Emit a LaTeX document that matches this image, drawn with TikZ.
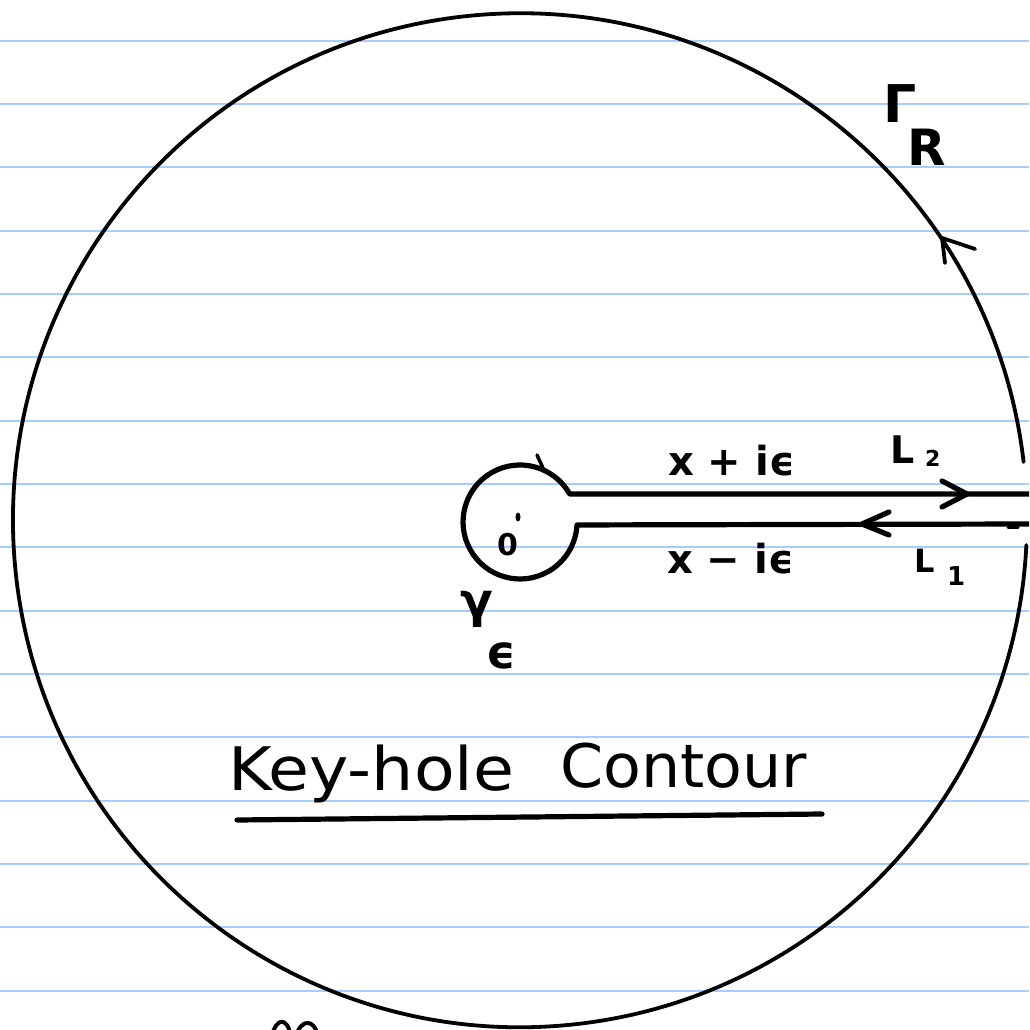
\documentclass[tikz,border=0pt]{standalone}
\usepackage{fontspec}
\setmainfont{DejaVu Sans}
\definecolor{ruleblue}{RGB}{164,206,255}
\begin{document}
\begin{tikzpicture}[x=1pt,y=-1pt,line cap=round,line join=round]
\tikzset{
  rule/.style={draw=ruleblue,line width=1.8pt,line cap=butt},
  ink/.style={draw=black,line width=3.8pt},
  heavyink/.style={draw=black,line width=5.2pt},
  lbl/.style={inner sep=0pt,anchor=base west,text=black}
}
\useasboundingbox (0,0) rectangle (1029,1030);
\fill[white] (0,0) rectangle (1029,1030);
\clip (0,0) rectangle (1029,1030);
% ruled paper
\foreach \k in {0,...,15}{
  \pgfmathsetmacro{\yy}{40.7+63.33*\k}
  \draw[rule] (0,\yy) -- (1029,\yy);
}
% big circle Gamma_R with gap on the right
\coordinate (O) at (520,520);
\coordinate (Gs) at (1023.6,462);
\draw[ink] (Gs) arc[start angle=-6.6,end angle=-357.2,radius=507];
% arrow on big circle
\coordinate (GA) at (942,238);
\draw[ink] (945,263) -- (GA) -- (975,249);
% keyhole
\coordinate (o) at (520,522);
\coordinate (U0) at (569.7,494);
\coordinate (U1) at (1029,494);
\coordinate (D1) at (1029,524);
\draw[heavyink] (U1) -- (U0) arc[start angle=-29.4,end angle=-357,radius=57] -- (D1);
\draw[line width=3pt] (1008,527) -- (1018,527);
% arrowheads on L2 and L1
\coordinate (A2) at (967,494);
\draw[heavyink] (942,481) -- (A2) -- (942,507);
\coordinate (A1) at (862,524);
\draw[heavyink] (889,512) -- (A1) -- (889,535);
% tick on small circle
\draw[line width=3.5pt] (537,455) -- (543,468);
% origin
\node[lbl,font=\bfseries\fontsize{30}{30}\selectfont] (zero) at (497,555) {0};
\fill (518,517) ellipse [x radius=2.5,y radius=4.5];
% labels
\node[lbl,font=\bfseries\fontsize{40}{40}\selectfont] (xp) at (668,475) {x + iϵ};
\node[lbl,font=\bfseries\fontsize{40}{40}\selectfont] (xm) at (667,573) {x − iϵ};
\node[lbl,font=\bfseries\fontsize{38}{38}\selectfont] (L2) at (890,463) {L};
\node[lbl,font=\bfseries\fontsize{22}{22}\selectfont] (L2s) at (925,466) {2};
\node[lbl,font=\bfseries\fontsize{32}{32}\selectfont] (L1) at (914,572) {L};
\node[lbl,font=\bfseries\fontsize{26}{26}\selectfont] (L1s) at (947,585) {1};
\node[lbl,font=\bfseries\fontsize{52}{52}\selectfont] (G) at (883,122) {Γ};
\node[lbl,font=\bfseries\fontsize{50}{50}\selectfont] (R) at (907,165) {R};
\node[lbl,font=\bfseries\fontsize{48}{48}\selectfont] (g) at (460,617) {γ};
\node[lbl,font=\bfseries\fontsize{46}{46}\selectfont] (eps) at (486,668) {ϵ};
% title
\node[lbl,font=\fontsize{60}{60}\selectfont] (kh) at (228,790) {\scalebox{1.11}[1]{Key-hole}};
\node[lbl,font=\fontsize{60}{60}\selectfont] (ct) at (560,787) {\scalebox{1.03}[1]{Contour}};
\coordinate (ul0) at (237,820);
\coordinate (ul1) at (822,814);
\draw[heavyink] (ul0) -- (ul1);
% partial writing at bottom edge
\draw[line width=4pt] (272,1036) .. controls (276,1018) and (287,1016) .. (291,1036);
\draw[line width=4pt] (296,1036) .. controls (301,1019) and (314,1018) .. (318,1036);
\end{tikzpicture}
\end{document}
